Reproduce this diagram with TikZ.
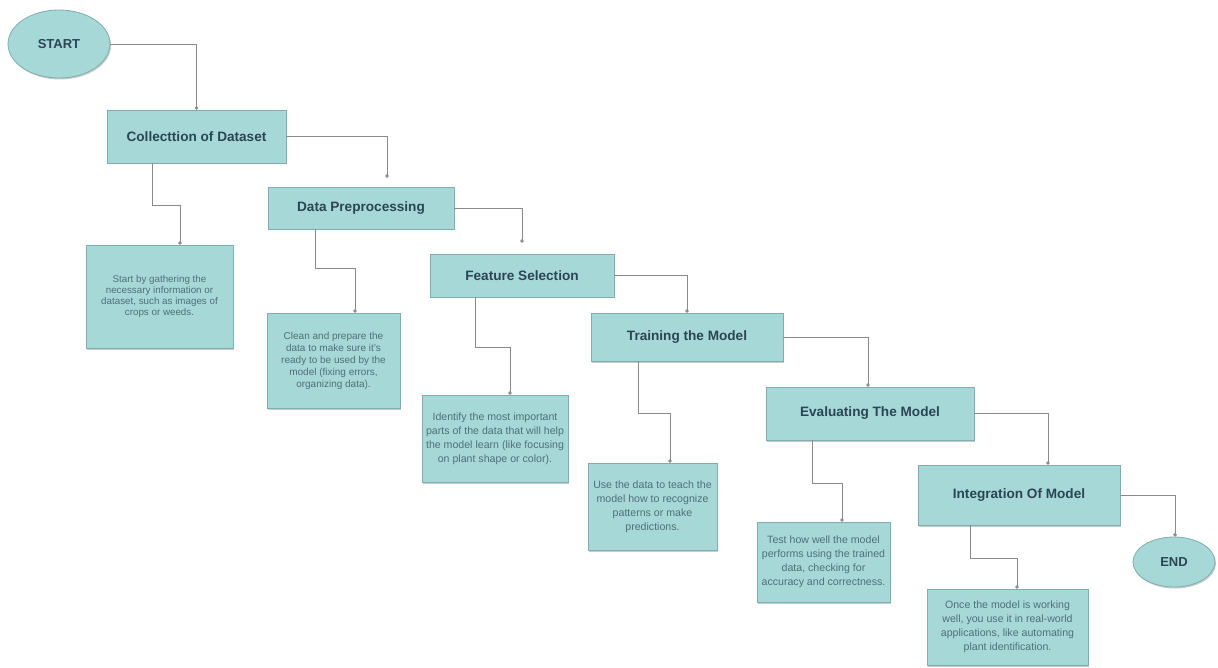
\documentclass[tikz,border=0pt]{standalone}
\usepackage{fontspec}
\setmainfont{Liberation Sans}
\usetikzlibrary{shapes.geometric,arrows.meta,shadows}
\definecolor{boxfill}{HTML}{A6D8D8}
\definecolor{boxline}{HTML}{7FAEB0}
\definecolor{titletext}{HTML}{2B4552}
\definecolor{desctext}{HTML}{4F7077}
\definecolor{connline}{HTML}{8A8A8A}
\tikzset{
  shade/.style={drop shadow={shadow xshift=1pt,shadow yshift=-1.5pt,fill=black!35,opacity=0.6}},
  titlebox/.style={draw=boxline,fill=boxfill,line width=0.6pt,shade,inner sep=2pt,
    font=\fontsize{13.6}{16}\selectfont\bfseries,text=titletext,align=center},
  descbox/.style={draw=boxline,fill=boxfill,line width=0.6pt,shade,inner sep=2pt,
    font=\fontsize{10.6}{14}\selectfont,text=desctext,align=center},
  smalldesc/.style={font=\fontsize{9.8}{11}\selectfont},
  middesc/.style={font=\fontsize{10}{12}\selectfont},
  oval/.style={ellipse,draw=boxline,fill=boxfill,line width=0.8pt,shade,inner sep=0pt,
    font=\fontsize{13}{15}\selectfont\bfseries,text=titletext},
  conn/.style={draw=connline,line width=0.7pt,-{Circle[length=3.5pt]}}
}
\begin{document}
\begin{tikzpicture}[x=1pt,y=-1pt]
\useasboundingbox (0,0) rectangle (1218,668);
% terminals
\node[oval,minimum width=102,minimum height=68] (start) at (59,44) {START};
\node[oval,minimum width=82,minimum height=50] (end) at (1174,562) {END};
% main steps
\node[titlebox,minimum width=179,minimum height=53] (c1) at (196.5,136.5) {Collecttion of Dataset};
\node[titlebox,minimum width=186,minimum height=42] (c2) at (361,208) {Data Preprocessing};
\node[titlebox,minimum width=184,minimum height=43] (c3) at (522,275.5) {Feature Selection};
\node[titlebox,minimum width=192,minimum height=48] (c4) at (687,337) {Training the Model};
\node[titlebox,minimum width=208,minimum height=53] (c5) at (870,413.5) {Evaluating The Model};
\node[titlebox,minimum width=202,minimum height=60] (c6) at (1019,495) {Integration Of Model};
% descriptions
\node[descbox,smalldesc,minimum width=147,minimum height=103] (d1) at (159.5,296.5)
  {Start by gathering the\\necessary information or\\dataset, such as images of\\crops or weeds.};
\node[descbox,middesc,minimum width=133,minimum height=95] (d2) at (333.5,360.5)
  {Clean and prepare the\\data to make sure it's\\ready to be used by the\\model (fixing errors,\\organizing data).};
\node[descbox,minimum width=146,minimum height=87] (d3) at (495,438.5)
  {Identify the most important\\parts of the data that will help\\the model learn (like focusing\\on plant shape or color).};
\node[descbox,minimum width=129,minimum height=87] (d4) at (652.5,506.5)
  {Use the data to teach the\\model how to recognize\\patterns or make\\predictions.};
\node[descbox,minimum width=133,minimum height=80] (d5) at (823.5,562)
  {Test how well the model\\performs using the trained\\data, checking for\\accuracy and correctness.};
\node[descbox,minimum width=161,minimum height=76] (d6) at (1007.5,627)
  {Once the model is working\\well, you use it in real-world\\applications, like automating\\plant identification.};
% main flow
\draw[conn] (start.east) -| (c1.north);
\draw[conn,shorten >=9pt] (c1.east) -| ([xshift=26pt]c2.north);
\draw[conn,shorten >=11pt] (c2.east) -| (c3.north);
\draw[conn] (c3.east) -| (c4.north);
\draw[conn] (c4.east) -| ([xshift=-2pt]c5.north);
\draw[conn] (c5.east) -| ([xshift=29pt]c6.north);
\draw[conn] (c6.east) -| ([xshift=1pt]end.north);
% detail links
\draw[conn] ([xshift=-44.5pt]c1.south) -- ++(0,42) -| ([xshift=20.5pt]d1.north);
\draw[conn] ([xshift=-46pt]c2.south) -- ++(0,39) -| ([xshift=21.5pt]d2.north);
\draw[conn] ([xshift=-47pt]c3.south) -- ++(0,50) -| ([xshift=15pt]d3.north);
\draw[conn] ([xshift=-49pt]c4.south) -- ++(0,52) -| ([xshift=17.5pt]d4.north);
\draw[conn] ([xshift=-58pt]c5.south) -- ++(0,43) -| ([xshift=18.5pt]d5.north);
\draw[conn] ([xshift=-49pt]c6.south) -- ++(0,33) -| ([xshift=9.5pt]d6.north);
\end{tikzpicture}
\end{document}
